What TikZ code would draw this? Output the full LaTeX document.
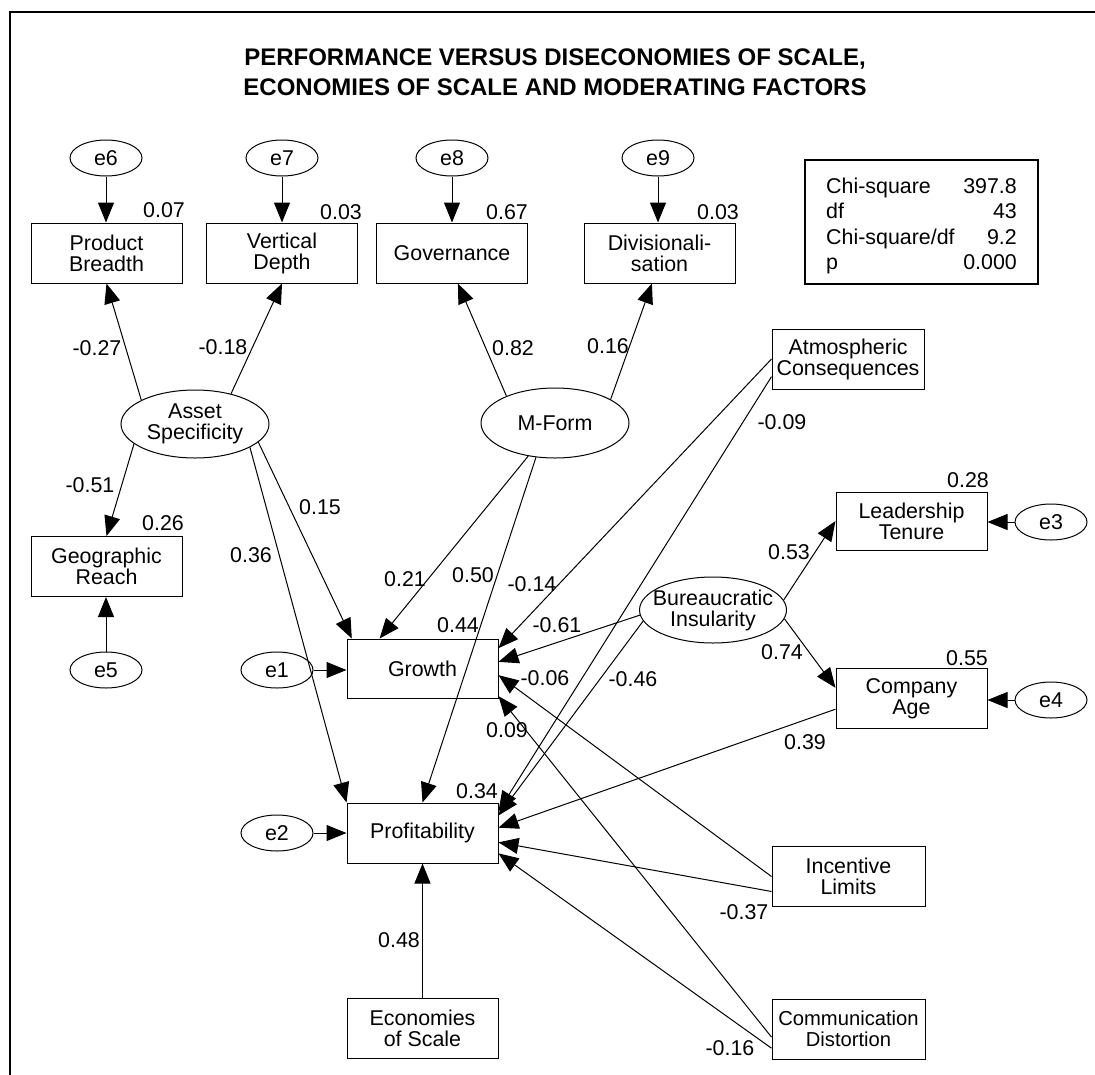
\documentclass[tikz,border=0pt]{standalone}
\usepackage{fontspec}
\setmainfont{Liberation Sans}
\usetikzlibrary{arrows.meta,shapes.geometric,calc}
\begin{document}
\begin{tikzpicture}[x=1pt,y=-1pt,
  every node/.style={font=\fontsize{21.4}{21}\selectfont, inner sep=0pt},
  box/.style={draw, line width=1pt, rectangle, minimum width=151pt, minimum height=60pt, align=center},
  lat/.style={draw, line width=1pt, ellipse, minimum width=148pt, minimum height=68pt, inner sep=-12pt, align=center},
  err/.style={draw, line width=1pt, ellipse, minimum width=72pt, minimum height=36pt, inner sep=-4pt},
  pth/.style={line width=1pt, -{Triangle[length=20pt,width=16pt]}},
  frame/.style={draw, line width=1.6pt},
]
\useasboundingbox (0,0) rectangle (1095,1074);
\draw[frame] (10,12) rectangle (1130,1110);

% title
\node[font=\fontsize{24}{30}\selectfont\bfseries, align=center] (title) at (555,72)
  {PERFORMANCE VERSUS DISECONOMIES OF SCALE,\\ECONOMIES OF SCALE AND MODERATING FACTORS};

% fit box
\node[draw, line width=2pt, minimum width=233pt, minimum height=124pt] (fitbox) at (921.5,222) {};
\node[anchor=base west] (c1) at (826,193) {Chi-square};
\node[anchor=base west] (c2) at (826,218.5) {df};
\node[anchor=base west] (c3) at (826,244) {Chi-square/df};
\node[anchor=base west] (c4) at (826,269) {p};
\node[anchor=base east] (v1) at (1017,193) {397.8};
\node[anchor=base east] (v2) at (1017,218.5) {43};
\node[anchor=base east] (v3) at (1017,244) {9.2};
\node[anchor=base east] (v4) at (1017,269) {0.000};

% error terms
\node[err] (e6) at (106,158) {e6};
\node[err] (e7) at (282,158) {e7};
\node[err] (e8) at (452,158) {e8};
\node[err] (e9) at (658,158) {e9};
\node[err] (e5) at (106,670) {e5};
\node[err] (e1) at (277,670) {e1};
\node[err] (e2) at (277,833) {e2};
\node[err] (e3) at (1051,522) {e3};
\node[err] (e4) at (1051,700) {e4};

% latent variables
\node[lat] (AS) at (195,424) {Asset\\Specificity};
\node[lat, minimum height=70pt] (MF) at (555,423) {M-Form};
\node[lat, minimum width=147pt, minimum height=66pt] (BI) at (713,610) {Bureaucratic\\Insularity};

% observed variables
\node[box] (PB) at (106.5,253) {Product\\Breadth};
\node[box] (VD) at (282,253) {Vertical\\Depth};
\node[box] (GOV) at (452,253) {Governance};
\node[box] (DIV) at (659.5,253) {Divisionali-\\sation};
\node[box] (GR) at (106.5,566.5) {Geographic\\Reach};
\node[box, minimum width=152pt] (ATM) at (848,359) {Atmospheric\\Consequences};
\node[box, minimum height=58pt] (LT) at (911.5,521) {Leadership\\Tenure};
\node[box] (CA) at (911.5,698.5) {Company\\Age};
\node[box, minimum height=59pt] (GRO) at (422.5,668.5) {Growth};
\node[box] (PRO) at (422.5,833) {Profitability};
\node[box] (EOS) at (422.5,1028) {Economies\\of Scale};
\node[box, minimum width=153pt] (IL) at (848.5,876.5) {Incentive\\Limits};
\node[box, minimum width=153pt, font=\fontsize{20.2}{21}\selectfont] (CD) at (848.5,1029) {Communication\\Distortion};

% error arrows
\draw[pth] (e6.south) -- (e6.south |- PB.north);
\draw[pth] (e7.south) -- (e7.south |- VD.north);
\draw[pth] (e8.south) -- (e8.south |- GOV.north);
\draw[pth] (e9.south) -- (e9.south |- DIV.north);
\draw[pth] (e5.north) -- (e5.north |- GR.south);
\draw[pth] (e1.east) -- (e1.east -| GRO.west);
\draw[pth] (e2.east) -- (e2.east -| PRO.west);
\draw[pth] (e3.west) -- (e3.west -| LT.east);
\draw[pth] (e4.west) -- (e4.west -| CA.east);

% measurement paths
\draw[pth] (AS.156) -- (PB.south);
\draw[pth] (AS.40) -- (VD.south);
\draw[pth] (AS.198) -- (GR.north);
\draw[pth] (MF.151) -- (GOV.-79);
\draw[pth] (MF.23.6) -- (DIV.-104);
\draw[pth] (BI.8.7) -- (LT.west);
\draw[pth] (BI.-7.8) -- (CA.172);

% structural paths
\draw[pth] (AS.-16.3) -- (GRO.157.6);
\draw[pth] (AS.-23.6) -- (PRO.north west);
\draw[pth] (MF.-129.5) -- (GRO.145);
\draw[pth] (MF.-119.7) -- (PRO.north);
\draw[pth] (ATM.west) -- (GRO.15);
\draw[pth] (ATM.193) -- (PRO.16);
\draw[pth] (BI.184) -- (GRO.5);
\draw[pth] (BI.189.7) -- (PRO.13);
\draw[pth] (CA.188) -- (PRO.4.5);
\draw[pth] (IL.west) -- (GRO.-5);
\draw[pth] (IL.191.5) -- (PRO.-7.5);
\draw[pth] (CD.186) -- (GRO.-20.7);
\draw[pth] (CD.194) -- (PRO.-15);
\draw[pth] (EOS.north) -- (PRO.south);

% coefficient labels
\node (l01) at (164,210) {0.07};
\node (l02) at (341,212) {0.03};
\node (l03) at (507,212) {0.67};
\node (l04) at (718,212) {0.03};
\node (l05) at (97,348) {-0.27};
\node (l06) at (223,347) {-0.18};
\node (l07) at (513,348) {0.82};
\node (l08) at (608,346) {0.16};
\node (l09) at (782,422) {-0.09};
\node (l10) at (90,485) {-0.51};
\node (l11) at (163,523) {0.26};
\node (l12) at (320,507) {0.15};
\node (l13) at (251,555) {0.36};
\node (l14) at (405,579) {0.21};
\node (l15) at (473,575) {0.50};
\node (l16) at (532,584) {-0.14};
\node (l17) at (458,625) {0.44};
\node (l18) at (557,625) {-0.61};
\node (l19) at (545,678) {-0.06};
\node (l20) at (633,679) {-0.46};
\node (l21) at (968,480) {0.28};
\node (l22) at (789,552) {0.53};
\node (l23) at (782,652) {0.74};
\node (l24) at (967,658) {0.55};
\node (l25) at (805,742) {0.39};
\node (l26) at (477,791) {0.34};
\node (l27) at (507,730) {0.09};
\node (l28) at (399,940) {0.48};
\node (l29) at (744,912) {-0.37};
\node (l30) at (730,1048) {-0.16};
\end{tikzpicture}
\end{document}
